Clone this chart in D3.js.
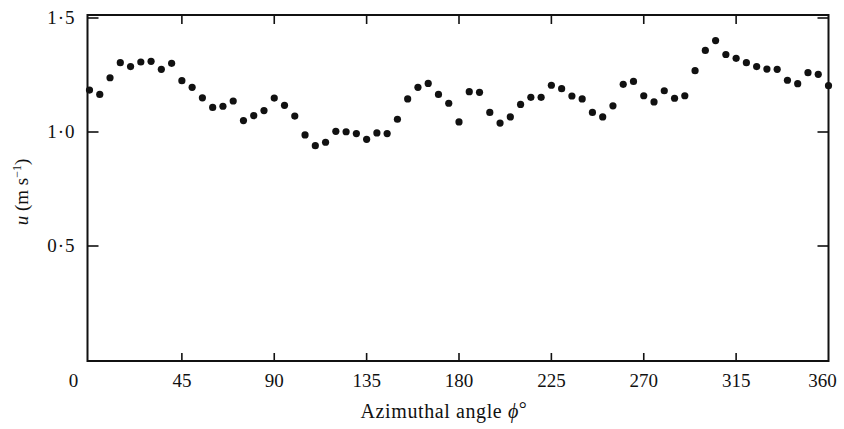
<!DOCTYPE html>
<html>
<head>
<meta charset="utf-8">
<script src="https://cdn.jsdelivr.net/npm/d3@7"></script>
<style>
  body { margin: 0; background: #fff; }
  text { font-family: "Liberation Serif", "DejaVu Serif", serif; fill: #111; }
</style>
</head>
<body>
<div id="chart"></div>
<script>
// Azimuthal angle (degrees), one reading every 5 degrees
var angles = d3.range(0, 361, 5);

// Velocity u (m/s), same order as angles
var velocities = [
  1.184, 1.165, 1.238, 1.304, 1.287, 1.307, 1.310, 1.275, 1.301, 1.225,
  1.196, 1.150, 1.108, 1.113, 1.136, 1.050, 1.072, 1.094, 1.149, 1.117,
  1.070, 0.987, 0.940, 0.955, 1.003, 1.001, 0.993, 0.968, 0.996, 0.993,
  1.056, 1.145, 1.196, 1.213, 1.165, 1.126, 1.044, 1.177, 1.174, 1.086,
  1.039, 1.066, 1.121, 1.152, 1.152, 1.205, 1.190, 1.158, 1.145, 1.086,
  1.066, 1.115, 1.209, 1.222, 1.159, 1.132, 1.181, 1.148, 1.159, 1.269,
  1.358, 1.401, 1.340, 1.323, 1.304, 1.287, 1.276, 1.275, 1.227, 1.212,
  1.260, 1.253, 1.203
];

var xTicks = [0, 45, 90, 135, 180, 225, 270, 315, 360];
var yTicks = [0.5, 1.0, 1.5];

function createChart() {
  var canvasWidth = 844;
  var canvasHeight = 429;

  var svg = d3.select('#chart')
    .append('svg')
    .attr('width', canvasWidth)
    .attr('height', canvasHeight);

  var x = d3.scaleLinear().domain([0, 360]).range([89.5, 828.5]);
  var y = d3.scaleLinear().domain([0, 1.5]).range([360, 18]);

  var left = x(0) - 2, right = x(360), top = y(1.5) - 3, bottom = y(0) + 1;

  // Frame
  svg.append('rect')
    .attr('x', left)
    .attr('y', top)
    .attr('width', right - left)
    .attr('height', bottom - top)
    .style('fill', 'none')
    .style('stroke', '#111')
    .style('stroke-width', 2);

  // Inward ticks on all four sides
  var inner = xTicks.filter(d => d > 0 && d < 360);
  svg.selectAll('line.xb')
    .data(inner).enter().append('line')
    .attr('x1', d => x(d)).attr('x2', d => x(d))
    .attr('y1', bottom).attr('y2', bottom - 8)
    .style('stroke', '#111').style('stroke-width', 1.6);
  svg.selectAll('line.xt')
    .data(inner).enter().append('line')
    .attr('x1', d => x(d)).attr('x2', d => x(d))
    .attr('y1', top).attr('y2', top + 9)
    .style('stroke', '#111').style('stroke-width', 1.6);
  svg.selectAll('line.yl')
    .data(yTicks).enter().append('line')
    .attr('x1', left).attr('x2', left + 11)
    .attr('y1', d => y(d)).attr('y2', d => y(d))
    .style('stroke', '#111').style('stroke-width', 1.6);
  svg.selectAll('line.yr')
    .data(yTicks).enter().append('line')
    .attr('x1', right).attr('x2', right - 11)
    .attr('y1', d => y(d)).attr('y2', d => y(d))
    .style('stroke', '#111').style('stroke-width', 1.6);

  // Tick labels
  svg.selectAll('text.xlab')
    .data(xTicks).enter().append('text')
    .attr('x', d => x(d) + (d === 0 ? -16 : d === 360 ? -6 : 0))
    .attr('y', 387)
    .attr('text-anchor', 'middle')
    .style('font-size', '19px')
    .text(d => d);

  svg.selectAll('text.ylab')
    .data(yTicks).enter().append('text')
    .attr('x', left - 12)
    .attr('y', d => y(d) + 6)
    .attr('text-anchor', 'end')
    .style('font-size', '19px')
    .style('letter-spacing', '1px')
    .text(d => d3.format('.1f')(d).replace('.', '·'));

  // Axis titles
  var xt = svg.append('text')
    .attr('x', 444)
    .attr('y', 418)
    .attr('text-anchor', 'middle')
    .style('font-size', '20px')
    .style('letter-spacing', '0.6px');
  xt.append('tspan').text('Azimuthal angle ');
  xt.append('tspan').style('font-style', 'italic').text('ϕ');
  xt.append('tspan').attr('dy', -2).text('°');

  var yt = svg.append('text')
    .attr('transform', 'translate(28,192) rotate(-90)')
    .attr('text-anchor', 'middle')
    .style('font-size', '19px');
  yt.append('tspan').style('font-style', 'italic').text('u');
  yt.append('tspan').text(' (m s');
  yt.append('tspan').attr('dy', -7).style('font-size', '12px').text('−1');
  yt.append('tspan').attr('dy', 7).text(')');

  // Data points
  svg.selectAll('circle.pt')
    .data(angles.map((a, i) => [a, velocities[i]]))
    .enter().append('circle')
    .attr('class', 'pt')
    .attr('cx', d => x(d[0]))
    .attr('cy', d => y(d[1]))
    .attr('r', 3.6)
    .style('fill', '#111');
}

createChart();
</script>
</body>
</html>
